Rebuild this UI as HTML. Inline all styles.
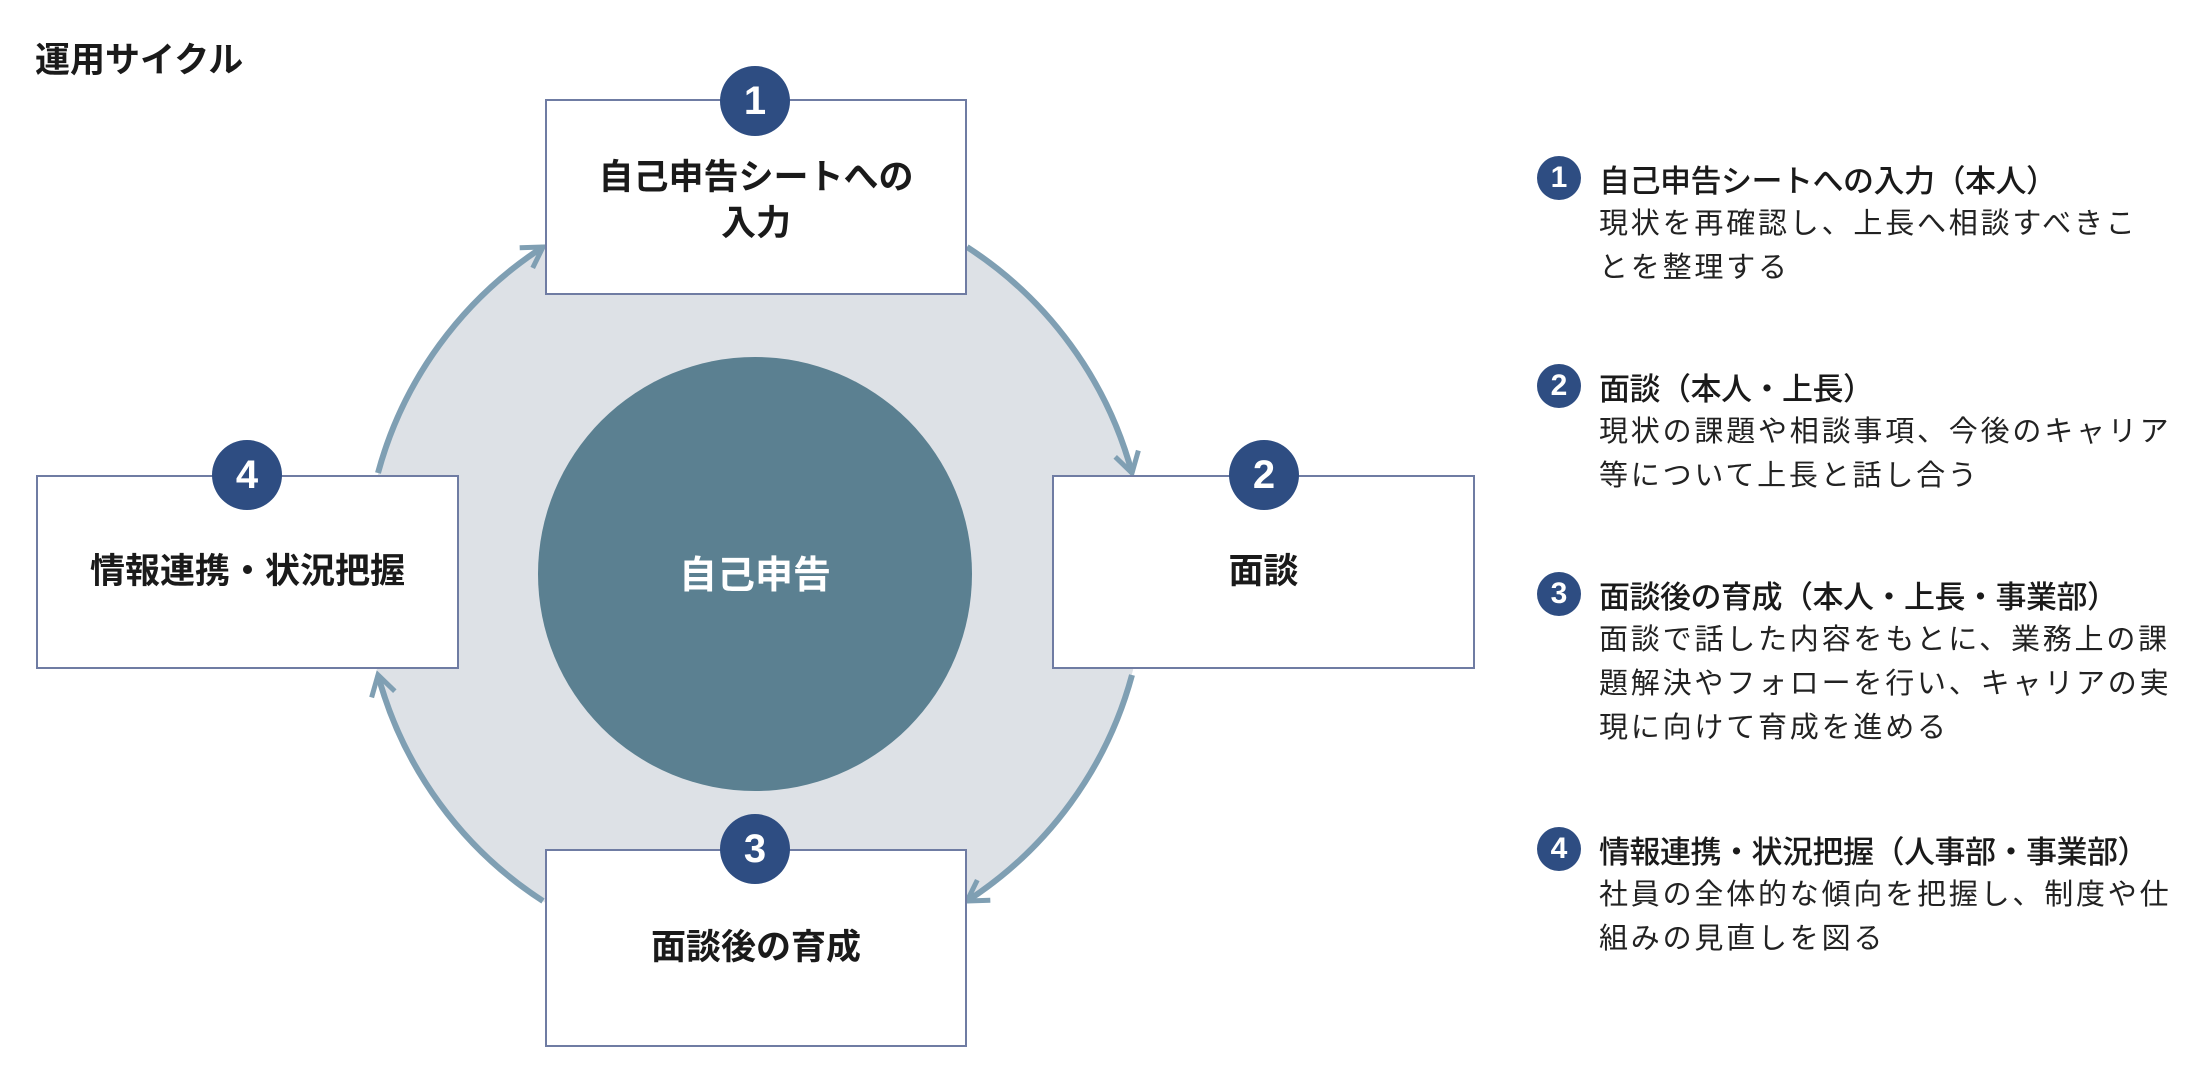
<!DOCTYPE html>
<html><head><meta charset="utf-8"><style>
body{margin:0;width:2197px;height:1084px;background:#fff;position:relative;overflow:hidden;font-family:"Liberation Sans","Noto Sans CJK JP",sans-serif;color:#1a1a1a}
.t{position:absolute;white-space:nowrap}
.box{position:absolute;background:#fff;border:2px solid #6f7ca3;box-sizing:border-box;display:flex;align-items:center;justify-content:center;text-align:center;font-weight:bold;font-size:35px;line-height:46px}
.bd{position:absolute;width:70px;height:70px;border-radius:50%;background:#2e4d82;color:#fff;font-size:40px;font-weight:bold;display:flex;align-items:center;justify-content:center;font-family:"Liberation Sans",sans-serif}
.sb{position:absolute;width:44px;height:44px;border-radius:50%;background:#2e4d82;color:#fff;font-size:30px;font-weight:bold;display:flex;align-items:center;justify-content:center}
.h{position:absolute;left:1599px;font-size:31px;font-weight:500;white-space:nowrap;letter-spacing:-0.5px}
.b{position:absolute;left:1599px;font-size:29px;letter-spacing:2.8px;line-height:44px;color:#222;white-space:nowrap}
</style></head><body>
<div class="t" style="left:35px;top:32px;font-size:35px;font-weight:bold">運用サイクル</div>
<svg style="position:absolute;left:0;top:0" width="2197" height="1084">
<defs><marker id="a" viewBox="0 0 30 30" refX="24" refY="15" markerWidth="30" markerHeight="30" orient="auto" markerUnits="userSpaceOnUse"><path d="M4 3 L24 15 L4 27" fill="none" stroke="#7f9fb3" stroke-width="5"/></marker></defs>
<circle cx="755" cy="574" r="390" fill="#dde1e6"/>
<circle cx="755" cy="574" r="217" fill="#5b8091"/>
<g fill="none" stroke="#7f9fb3" stroke-width="6">
<path d="M967 247 A390 390 0 0 1 1132 473" marker-end="url(#a)"/>
<path d="M1132 675 A390 390 0 0 1 967 901" marker-end="url(#a)"/>
<path d="M543 901 A390 390 0 0 1 378 675" marker-end="url(#a)"/>
<path d="M378 473 A390 390 0 0 1 543 247" marker-end="url(#a)"/>
</g>
<text x="755" y="588" fill="#fff" font-size="38" font-weight="bold" text-anchor="middle" font-family="Liberation Sans, Noto Sans CJK JP, sans-serif">自己申告</text>
</svg>
<div class="box" style="left:545px;top:99px;width:422px;height:196px;padding-top:8px">自己申告シートへの<br>入力</div>
<div class="box" style="left:1052px;top:475px;width:423px;height:194px">面談</div>
<div class="box" style="left:36px;top:475px;width:423px;height:194px">情報連携・状況把握</div>
<div class="box" style="left:545px;top:849px;width:422px;height:198px">面談後の育成</div>
<div class="bd" style="left:720px;top:66px">1</div>
<div class="bd" style="left:1229px;top:440px">2</div>
<div class="bd" style="left:212px;top:440px">4</div>
<div class="bd" style="left:720px;top:814px">3</div>

<div class="sb" style="left:1537px;top:156px">1</div>
<div class="h" style="top:156px">自己申告シートへの入力（本人）</div>
<div class="b" style="top:202px">現状を再確認し、上長へ相談すべきこ<br>とを整理する</div>
<div class="sb" style="left:1537px;top:364px">2</div>
<div class="h" style="top:364px">面談（本人・上長）</div>
<div class="b" style="top:410px">現状の課題や相談事項、今後のキャリア<br>等について上長と話し合う</div>
<div class="sb" style="left:1537px;top:572px">3</div>
<div class="h" style="top:572px">面談後の育成（本人・上長・事業部）</div>
<div class="b" style="top:618px">面談で話した内容をもとに、業務上の課<br>題解決やフォローを行い、キャリアの実<br>現に向けて育成を進める</div>
<div class="sb" style="left:1537px;top:827px">4</div>
<div class="h" style="top:827px">情報連携・状況把握（人事部・事業部）</div>
<div class="b" style="top:873px">社員の全体的な傾向を把握し、制度や仕<br>組みの見直しを図る</div>
</body></html>
